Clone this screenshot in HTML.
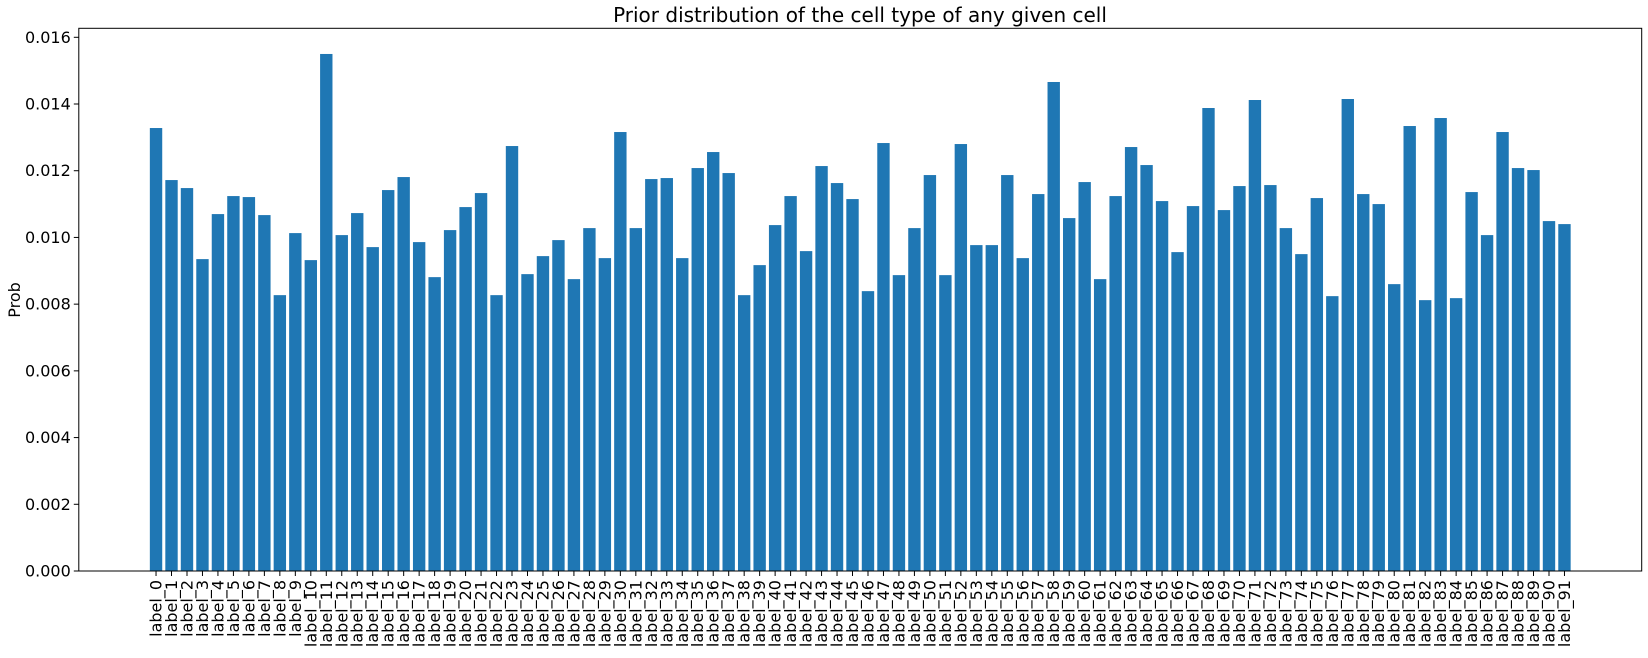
<!DOCTYPE html>
<html><head><meta charset="utf-8"><style>
html,body{margin:0;padding:0;background:#fff;}
svg text{font-family:"DejaVu Sans","Liberation Sans",sans-serif;fill:#000;}
</style></head><body>
<svg id="chart" width="1648" height="653" viewBox="0 0 1648 653" xmlns="http://www.w3.org/2000/svg">
<text x="860" y="22" font-size="20" text-anchor="middle">Prior distribution of the cell type of any given cell</text>
<text transform="translate(20,300) rotate(-90)" font-size="16" text-anchor="middle">Prob</text>
<g id="bars"></g>
<g id="yticks"></g>
<g id="xticks"></g>
<rect x="78.8" y="28.3" width="1562.9" height="542.7" fill="none" stroke="#000" stroke-width="1"/>
</svg>
<script>
const values = [0.01328,0.01172,0.01148,0.00935,0.01070,0.01124,0.01121,0.01067,0.00827,0.01013,
0.00932,0.0155,0.01007,0.01073,0.00971,0.01142,0.01181,0.00986,0.00881,0.01022,
0.01091,0.01133,0.00827,0.01274,0.0089,0.00944,0.00992,0.00875,0.01028,0.00938,
0.01316,0.01028,0.01175,0.01178,0.00938,0.01208,0.01256,0.01193,0.00827,0.00917,
0.01037,0.01124,0.00959,0.01214,0.01163,0.01115,0.00839,0.01283,0.00887,0.01028,
0.01187,0.00887,0.0128,0.00977,0.00977,0.01187,0.00938,0.0113,0.01466,0.01058,
0.01166,0.00875,0.01124,0.01271,0.01217,0.01109,0.00956,0.01094,0.01388,0.01082,
0.01154,0.01412,0.01157,0.01028,0.0095,0.01118,0.00824,0.01415,0.0113,0.011,
0.0086,0.01334,0.00812,0.01358,0.00818,0.01136,0.01007,0.01316,0.01208,0.01202,
0.01049,0.0104];
const categories = values.map((v,i)=>'label_'+i);
const yTicks = [0,0.002,0.004,0.006,0.008,0.010,0.012,0.014,0.016];
const yTickLabels = ['0.000','0.002','0.004','0.006','0.008','0.010','0.012','0.014','0.016'];

const L=78.8,R=1641.7,T=28.3,B=571;
const xmin=-4.99,xmax=categories.length-1+4.99;
const ymax=0.016+ (37.3-T)*0.002/66.75;
const xs=i=>L+(i-xmin)/(xmax-xmin)*(R-L);
const ys=v=>B-v/ymax*(B-T);
const NS='http://www.w3.org/2000/svg';
const bw=0.8*(R-L)/(xmax-xmin);
const gb=document.getElementById('bars');
values.forEach((v,i)=>{
  const r=document.createElementNS(NS,'rect');
  r.setAttribute('x',xs(i)-bw/2);r.setAttribute('y',ys(v));
  r.setAttribute('width',bw);r.setAttribute('height',B-ys(v));
  r.setAttribute('fill','#1f77b4');
  
  
  gb.appendChild(r);
});
const gy=document.getElementById('yticks');
yTicks.forEach((t,i)=>{
  const y=ys(t);
  const l=document.createElementNS(NS,'line');
  l.setAttribute('x1',L-5);l.setAttribute('x2',L);l.setAttribute('y1',y);l.setAttribute('y2',y);
  l.setAttribute('stroke','#000');
  
  
  gy.appendChild(l);
  const tx=document.createElementNS(NS,'text');
  tx.setAttribute('x',L-8);tx.setAttribute('y',y+5.5);tx.setAttribute('font-size','16');
  tx.setAttribute('text-anchor','end');tx.textContent=yTickLabels[i];
  
  
  gy.appendChild(tx);
});
const gx=document.getElementById('xticks');
categories.forEach((c,i)=>{
  const x=xs(i);
  const l=document.createElementNS(NS,'line');
  l.setAttribute('x1',x);l.setAttribute('x2',x);l.setAttribute('y1',B);l.setAttribute('y2',B+5);
  l.setAttribute('stroke','#000');
  
  
  gx.appendChild(l);
  const tx=document.createElementNS(NS,'text');
  tx.setAttribute('transform','translate('+(x+5.5)+','+(B+9)+') rotate(-90)');
  tx.setAttribute('font-size','16');tx.setAttribute('text-anchor','end');
  tx.textContent=c;
  
  
  gx.appendChild(tx);
});
</script>
</body></html>
